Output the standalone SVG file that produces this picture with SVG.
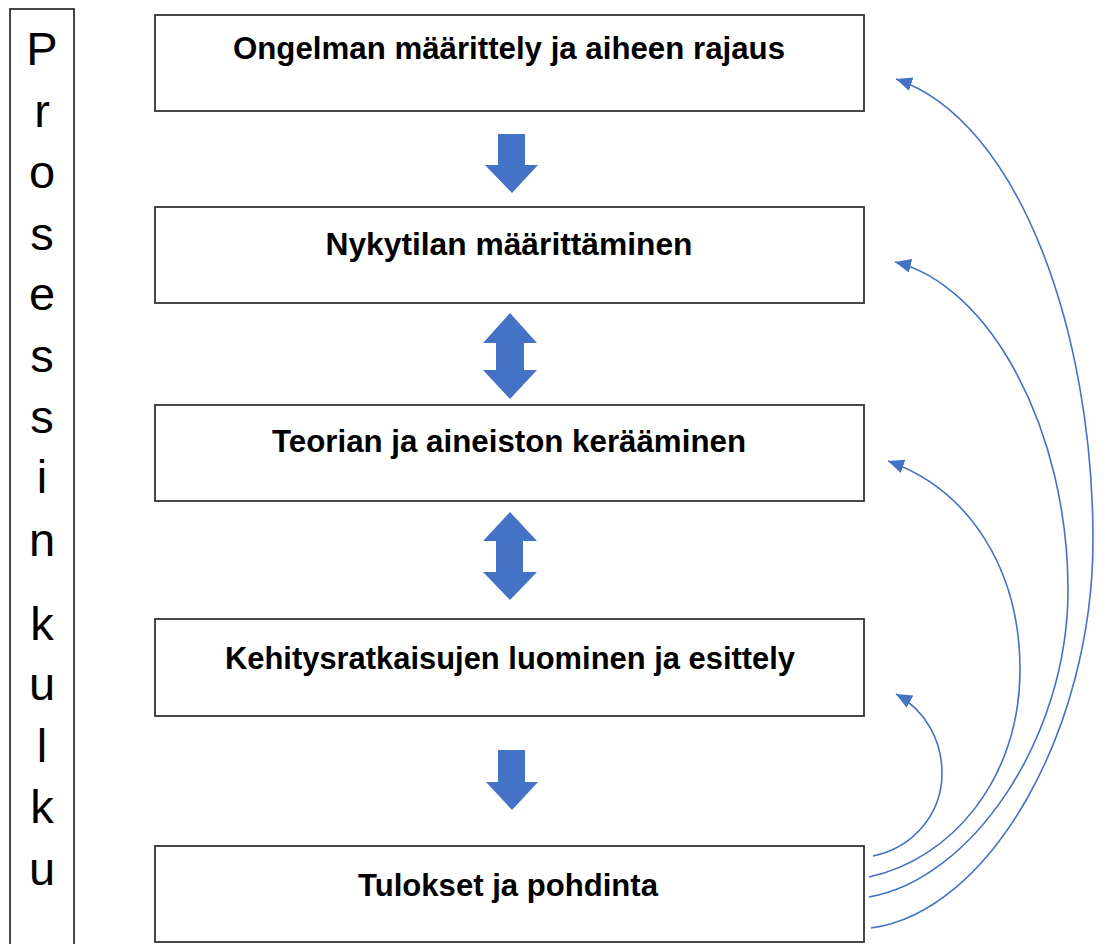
<svg xmlns="http://www.w3.org/2000/svg" width="1107" height="944" viewBox="0 0 1107 944">
<style>
.box{fill:#fff;stroke:#333;stroke-width:1.8}
.lbl{font-family:"Liberation Sans",Arial,sans-serif;font-weight:bold;font-size:31px;fill:#000;text-anchor:middle}
.vert{font-family:"Liberation Sans",Arial,sans-serif;font-size:47px;fill:#000;text-anchor:middle}
.blk{fill:#4472C4}
.cur{fill:none;stroke:#4472C4;stroke-width:1.6}
</style>
<defs>
<marker id="ah" markerUnits="userSpaceOnUse" markerWidth="17" markerHeight="15" refX="16" refY="7" orient="auto">
<path d="M0,0 L16,7 L0,14 z" fill="#4472C4"/>
</marker>
</defs>
<rect width="1107" height="944" fill="#fff"/>
<g id="side">
<rect class="box" x="10" y="9" width="64" height="950"/>
<text class="vert" x="42" y="65">P</text>
<text class="vert" x="42" y="127">r</text>
<text class="vert" x="42" y="188">o</text>
<text class="vert" x="42" y="250">s</text>
<text class="vert" x="42" y="310">e</text>
<text class="vert" x="42" y="372">s</text>
<text class="vert" x="42" y="433">s</text>
<text class="vert" x="42" y="493">i</text>
<text class="vert" x="42" y="556">n</text>
<text class="vert" x="42" y="640">k</text>
<text class="vert" x="42" y="700">u</text>
<text class="vert" x="42" y="762">l</text>
<text class="vert" x="42" y="823">k</text>
<text class="vert" x="42" y="885">u</text>
</g>
<g id="n1">
<rect class="box" x="155" y="15" width="709" height="96"/>
<text class="lbl" x="509" y="59" textLength="552" lengthAdjust="spacingAndGlyphs">Ongelman määrittely ja aiheen rajaus</text>
</g>
<g id="n2">
<rect class="box" x="155" y="207" width="709" height="96"/>
<text class="lbl" x="509" y="255" textLength="367" lengthAdjust="spacingAndGlyphs">Nykytilan määrittäminen</text>
</g>
<g id="n3">
<rect class="box" x="155" y="405" width="709" height="96"/>
<text class="lbl" x="509" y="452" textLength="474" lengthAdjust="spacingAndGlyphs">Teorian ja aineiston kerääminen</text>
</g>
<g id="n4">
<rect class="box" x="155" y="619" width="709" height="97"/>
<text class="lbl" x="510" y="669" textLength="570" lengthAdjust="spacingAndGlyphs">Kehitysratkaisujen luominen ja esittely</text>
</g>
<g id="n5">
<rect class="box" x="155" y="846" width="709" height="96"/>
<text class="lbl" x="508" y="896" textLength="300" lengthAdjust="spacingAndGlyphs">Tulokset ja pohdinta</text>
</g>
<g id="connectors">
<polygon class="blk" points="498,134 525,134 525,165 538,165 512,193 485,165 498,165"/>
<polygon class="blk" points="510,313 537,343 524,343 524,370 537,370 510,399 483,370 496,370 496,343 483,343"/>
<polygon class="blk" points="510,512 537,541 523,541 523,572 537,572 510,600 483,572 496,572 496,541 483,541"/>
<polygon class="blk" points="498,750 525,750 525,782 538,782 512,810 486,782 498,782"/>
<path class="cur" marker-end="url(#ah)" d="M873,856 C912,848 942,815 942,773 C942,740 925,710 896,694"/>
<path class="cur" marker-end="url(#ah)" d="M869,877 C950,860 1020,780 1020,670 C1020,570 970,490 888,461"/>
<path class="cur" marker-end="url(#ah)" d="M869,897 C970,880 1068,740 1068,590 C1068,430 990,285 895,262"/>
<path class="cur" marker-end="url(#ah)" d="M871,928 C990,912 1093,730 1093,540 C1093,330 1018,120 896,79"/>
</g>
</svg>
